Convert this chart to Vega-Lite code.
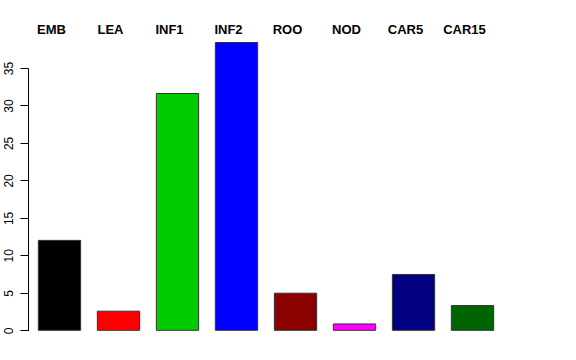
{
  "$schema": "https://vega.github.io/schema/vega-lite/v6.json",
  "width": 476,
  "height": 262.3,
  "autosize": {"type": "none"},
  "padding": {"left": 28, "top": 68, "right": 72, "bottom": 29.7},
  "background": "white",
  "config": {
    "view": {"stroke": null},
    "font": "Liberation Sans",
    "axisY": {
      "title": null,
      "grid": false,
      "labelOverlap": false,
      "labelBound": false,
      "labelFlush": false,
      "domainColor": "#000000",
      "tickColor": "#000000",
      "tickSize": 8,
      "labelAngle": -90,
      "labelAlign": "center",
      "labelBaseline": "bottom",
      "labelPadding": 5,
      "labelFontSize": 12,
      "labelColor": "#000000",
      "labelFont": "Liberation Sans"
    }
  },
  "data": {
    "values": [
      {"tissue": "EMB", "value": 12.0, "color": "#000000"},
      {"tissue": "LEA", "value": 2.55, "color": "#FF0000"},
      {"tissue": "INF1", "value": 31.6, "color": "#00CD00"},
      {"tissue": "INF2", "value": 38.4, "color": "#0000FF"},
      {"tissue": "ROO", "value": 4.95, "color": "#8B0000"},
      {"tissue": "NOD", "value": 0.85, "color": "#FF00FF"},
      {"tissue": "CAR5", "value": 7.45, "color": "#000080"},
      {"tissue": "CAR15", "value": 3.3, "color": "#006400"}
    ]
  },
  "layer": [
    {
      "mark": {"type": "bar", "stroke": "#333333", "strokeWidth": 1},
      "encoding": {
        "x": {
          "field": "tissue",
          "type": "nominal",
          "sort": null,
          "scale": {"paddingInner": 0.283, "paddingOuter": 0.175},
          "axis": null
        },
        "y": {
          "field": "value",
          "type": "quantitative",
          "scale": {"domain": [0, 35], "nice": false, "zero": true},
          "axis": {"title": null, "values": [0, 5, 10, 15, 20, 25, 30, 35]}
        },
        "fill": {"field": "color", "type": "nominal", "scale": null}
      }
    },
    {
      "mark": {"type": "text", "fontWeight": "bold", "fontSize": 13, "baseline": "middle", "align": "center", "dx": -8, "color": "#000000", "font": "Liberation Sans"},
      "encoding": {
        "x": {"field": "tissue", "type": "nominal", "sort": null, "axis": null},
        "y": {"datum": 40.05, "type": "quantitative", "axis": {"title": null, "values": [0, 5, 10, 15, 20, 25, 30, 35]}},
        "text": {"field": "tissue"}
      }
    }
  ]
}
